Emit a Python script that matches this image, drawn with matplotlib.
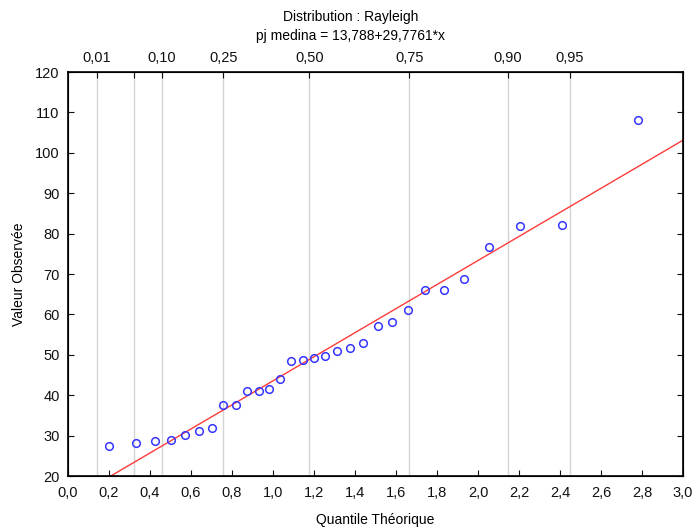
import matplotlib
matplotlib.use("Agg")
import matplotlib.pyplot as plt
import numpy as np

plt.rcParams["font.family"] = ["Liberation Sans", "DejaVu Sans"]

# theoretical Rayleigh quantiles (x) vs observed values (y)
quantiles = [0.20, 0.33, 0.425, 0.50, 0.57, 0.64, 0.70, 0.758, 0.818,
             0.873, 0.93, 0.982, 1.034, 1.09, 1.145, 1.198, 1.254, 1.314,
             1.378, 1.441, 1.51, 1.579, 1.657, 1.74, 1.833, 1.934, 2.055,
             2.205, 2.411, 2.78]
observed = [27.4, 28.2, 28.6, 28.8, 30.2, 31.1, 31.9, 37.6, 37.6,
            41.0, 41.0, 41.5, 44.1, 48.5, 48.6, 49.2, 49.8, 50.9,
            51.7, 53.0, 57.1, 58.2, 61.2, 66.0, 66.1, 68.8, 76.7,
            82.0, 82.2, 108.1]

intercept = 13.788
slope = 29.7761

# probability scale on the top axis
probs = [0.01, 0.05, 0.10, 0.25, 0.50, 0.75, 0.90, 0.95]
prob_labels = ["0,01", "", "0,10", "0,25", "0,50", "0,75", "0,90", "0,95"]

fig = plt.figure(figsize=(6.96, 5.30), dpi=100)
ax = fig.add_axes([68 / 696, 1 - 476 / 530, (683 - 68) / 696, (476 - 72) / 530])

prob_pos = np.sqrt(-2 * np.log(1 - np.array(probs)))
for p in prob_pos:
    ax.axvline(p, color="#d4d4d4", lw=1, zorder=0)

xs = np.linspace(0, 3, 200)
ax.plot(xs, intercept + slope * xs, color="#ff3b3b", lw=1, zorder=2)
ax.plot(quantiles, observed, "o", mfc="none", mec="#3535ff", mew=1.1,
        ms=5.5, zorder=3)

ax.set_xlim(0, 3)
ax.set_ylim(20, 120)
xt = np.arange(0, 3.01, 0.2)
ax.set_xticks(xt)
ax.set_xticklabels([f"{v:.1f}".replace(".", ",") for v in xt])
ax.set_yticks(np.arange(20, 121, 10))
ax.tick_params(axis="x", direction="in", length=4, labelsize=10.5,
               colors="#111111", top=False, pad=7)
ax.tick_params(axis="y", direction="in", length=4, labelsize=10.5,
               colors="#111111", right=True, pad=6)
for s in ax.spines.values():
    s.set_linewidth(1.2)

top = ax.twiny()
top.set_xlim(0, 3)
top.set_xticks(prob_pos)
top.set_xticklabels(prob_labels)
top.tick_params(direction="in", length=4, labelsize=10.5, colors="#111111", pad=5)

ax.set_xlabel("Quantile Théorique", fontsize=10, va="center")
ax.xaxis.set_label_coords(0.5, -(520 - 476) / 404)
ax.set_ylabel("Valeur Observée", fontsize=10, va="center")
ax.yaxis.set_label_coords((19 - 68) / 615, 0.5)

fig.text(351 / 696, 1 - 17 / 530, "Distribution : Rayleigh", ha="center",
         va="center", fontsize=10)
fig.text(351 / 696, 1 - 36 / 530, "pj medina = 13,788+29,7761*x", ha="center",
         va="center", fontsize=10)

fig.savefig("out.png", dpi=100)
